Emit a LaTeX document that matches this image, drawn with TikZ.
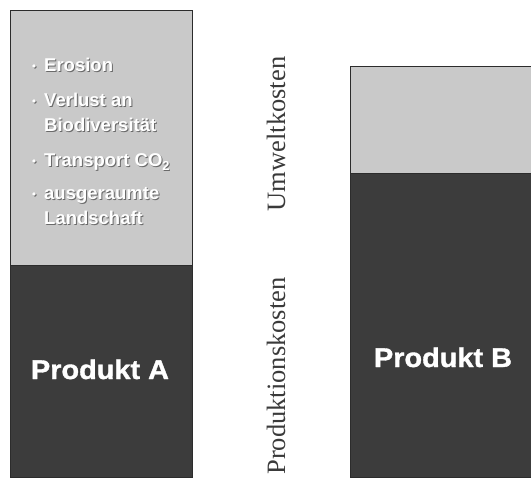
\documentclass[tikz,border=0pt]{standalone}
\usepackage{fontspec}
\setmainfont{Liberation Serif}
\newfontfamily\labelsans{Liberation Sans}
\newfontfamily\heavysans{Liberation Sans}[BoldFeatures={FakeBold=1.3,FakeStretch=1.07}]

\definecolor{envgray}{HTML}{C9C9C9}
\definecolor{prodgray}{HTML}{3C3C3C}
\definecolor{framegray}{HTML}{2C2C2C}
\definecolor{axisgray}{HTML}{3A3A3A}
\definecolor{shadowgray}{HTML}{6A6A6A}

\begin{document}
\begin{tikzpicture}[x=1pt,y=-1pt,
  part/.style={draw=framegray, line width=1.2pt, inner sep=0pt, anchor=north west},
  envpart/.style={part, fill=envgray},
  prodpart/.style={part, fill=prodgray},
  axislabel/.style={rotate=90, anchor=base, text=axisgray, inner sep=0pt,
    font=\fontsize{26.5}{30}\selectfont},
  prodname/.style={text=white, inner sep=0pt,
    font=\heavysans\bfseries\fontsize{27}{32}\selectfont},
  itemtext/.style={text=white, inner sep=0pt, anchor=base west,
    font=\labelsans\bfseries\fontsize{18.5}{22}\selectfont},
  itemshadow/.style={itemtext, text=shadowgray},
  bulletdot/.style={circle, fill=white, inner sep=0pt, minimum size=3.6pt},
  bulletshadow/.style={circle, fill=shadowgray, inner sep=0pt, minimum size=3.6pt}
]
\useasboundingbox (0,0) rectangle (531,484);
\clip (0,0) rectangle (531,484);

% column A: environmental costs on top, production costs below
\node[envpart, minimum width=182pt, minimum height=255pt] (aenv) at (10,10) {};
\node[prodpart, minimum width=182pt, minimum height=212pt] (aprod) at (10,265) {};

% column B
\node[envpart, minimum width=184pt, minimum height=107pt] (benv) at (350,66) {};
\node[prodpart, minimum width=184pt, minimum height=304pt] (bprod) at (350,173) {};

% product names
\node[prodname, anchor=base] (nameA) at (100,379) {Produkt A};
\node[prodname, anchor=base] (nameB) at (443,367) {Produkt B};

% axis labels between the columns
\node[axislabel] (envlabel) at (285,134) {Umweltkosten};
\node[axislabel] (prodlabel) at (285,376) {Produktionskosten};

% environmental cost items, white text with a soft dark edge
\foreach \name/\y/\txt in {
    erosion/72/{Erosion},
    verlust/107/{Verlust an},
    bio/132/{Biodiversit\"at},
    transport/167/{Transport CO\textsubscript{2}},
    ausger/200/{ausgeraumte},
    land/225/{Landschaft}} {
  \node[itemshadow] (\name s) at (45,\y+1) {\txt};
  \node[itemtext] (\name) at (44,\y) {\txt};
}
\foreach \name/\y in {erosion/72, verlust/107, transport/167, ausger/200} {
  \node[bulletshadow] (b\name s) at (35,\y-5) {};
  \node[bulletdot] (b\name) at (34,\y-6) {};
}
\end{tikzpicture}
\end{document}
